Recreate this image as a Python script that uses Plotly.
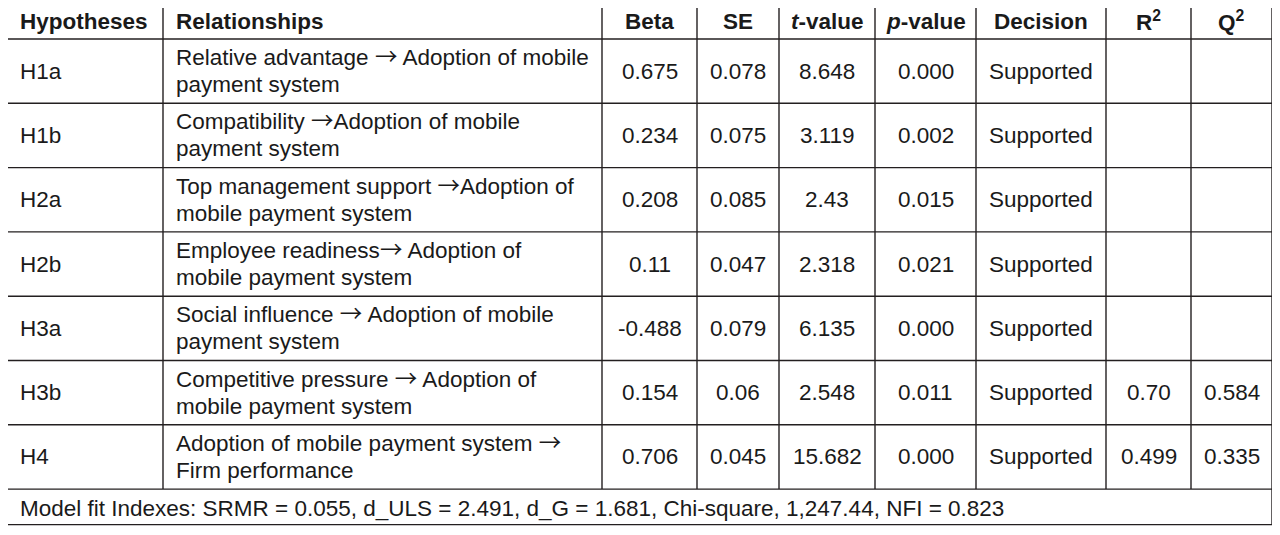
import plotly.graph_objects as go

# ---- data ----
headers = ["<b>Hypotheses</b>", "<b>Relationships</b>", "<b>Beta</b>", "<b>SE</b>",
           "<b><i>t</i>-value</b>", "<b><i>p</i>-value</b>", "<b>Decision</b>",
           "<b>R<sup>2</sup></b>", "<b>Q<sup>2</sup></b>"]
hypotheses = ["H1a", "H1b", "H2a", "H2b", "H3a", "H3b", "H4"]
relationships = [
    ["Relative advantage \u2192 Adoption of mobile", "payment system"],
    ["Compatibility \u2192Adoption of mobile", "payment system"],
    ["Top management support \u2192Adoption of", "mobile payment system"],
    ["Employee readiness\u2192 Adoption of", "mobile payment system"],
    ["Social influence \u2192 Adoption of mobile", "payment system"],
    ["Competitive pressure \u2192 Adoption of", "mobile payment system"],
    ["Adoption of mobile payment system \u2192", "Firm performance"],
]
beta = ["0.675", "0.234", "0.208", "0.11", "-0.488", "0.154", "0.706"]
se = ["0.078", "0.075", "0.085", "0.047", "0.079", "0.06", "0.045"]
t_value = ["8.648", "3.119", "2.43", "2.318", "6.135", "2.548", "15.682"]
p_value = ["0.000", "0.002", "0.015", "0.021", "0.000", "0.011", "0.000"]
decision = ["Supported"] * 7
r2 = ["", "", "", "", "", "0.70", "0.499"]
q2 = ["", "", "", "", "", "0.584", "0.335"]
footer = "Model fit Indexes: SRMR = 0.055, d_ULS = 2.491, d_G = 1.681, Chi-square, 1,247.44, NFI = 0.823"

# ---- layout geometry (window pixel coordinates) ----
W, H = 1280, 535
BODY = 8  # default page margin around the plot div
col_edges = [7, 163, 602, 697, 779, 875, 976, 1106, 1191, 1272]
top, header_bottom, row_h, footer_h = 3, 39, 64.3, 35.5
pad = 11
font_size = 22.5
line_gap = 27
arrow_dy = -2.5  # compensates the taller box of the arrow glyph's font
FONT = "Liberation Sans, Arial, sans-serif"
TXT = "#1a1a1a"
LINE = "#231f20"
ARROW = '<span style="font-family:Noto Sans CJK SC">\u2192</span>'

n_rows = len(hypotheses)
row_edges = [top, header_bottom] + [header_bottom + row_h * (i + 1) for i in range(n_rows)]
table_bottom = row_edges[-1] + footer_h
row_edges.append(table_bottom)

fig = go.Figure()
shapes = []
for y in row_edges:
    shapes.append(dict(type="line", x0=col_edges[0], x1=col_edges[-1], y0=y, y1=y,
                       xref="x", yref="y", line=dict(color=LINE, width=1.4)))
for j, x in enumerate(col_edges):
    y_end = table_bottom if j in (0, len(col_edges) - 1) else row_edges[-2]
    shapes.append(dict(type="line", x0=x, x1=x, y0=top, y1=y_end,
                       xref="x", yref="y", line=dict(color=LINE, width=1.4)))

annotations = []


def add_text(text, x, y, anchor):
    if "\u2192" in text:
        y = y + arrow_dy
    annotations.append(dict(text=text.replace("\u2192", ARROW), x=x, y=y, xref="x", yref="y",
                            showarrow=False, xanchor=anchor, yanchor="middle",
                            font=dict(family=FONT, size=font_size, color=TXT)))


def cell_x(j):
    if j < 2:
        return col_edges[j] + pad, "left"
    return (col_edges[j] + col_edges[j + 1]) / 2, "center"


hy = (row_edges[0] + row_edges[1]) / 2
for j, h in enumerate(headers):
    x, a = cell_x(j)
    add_text(h, x, hy, a)

columns = [hypotheses, None, beta, se, t_value, p_value, decision, r2, q2]
for i in range(n_rows):
    cy = (row_edges[i + 1] + row_edges[i + 2]) / 2
    for j, col in enumerate(columns):
        x, a = cell_x(j)
        if j == 1:
            lines = relationships[i]
            k = len(lines)
            for m, ln in enumerate(lines):
                add_text(ln, x, cy + (m - (k - 1) / 2) * line_gap, a)
        elif col[i]:
            add_text(col[i], x, cy, a)

fy = (row_edges[-2] + row_edges[-1]) / 2 + 1.5
add_text(footer, col_edges[0] + pad, fy, "left")

fig.update_layout(
    width=W - 2 * BODY, height=H - 2 * BODY, margin=dict(l=0, r=0, t=0, b=0),
    paper_bgcolor="white", plot_bgcolor="white",
    xaxis=dict(range=[BODY, W - BODY], visible=False, fixedrange=True),
    yaxis=dict(range=[H - BODY, BODY], visible=False, fixedrange=True),
    shapes=shapes, annotations=annotations, showlegend=False,
)
fig.write_html("out.html", config={"displayModeBar": False})
